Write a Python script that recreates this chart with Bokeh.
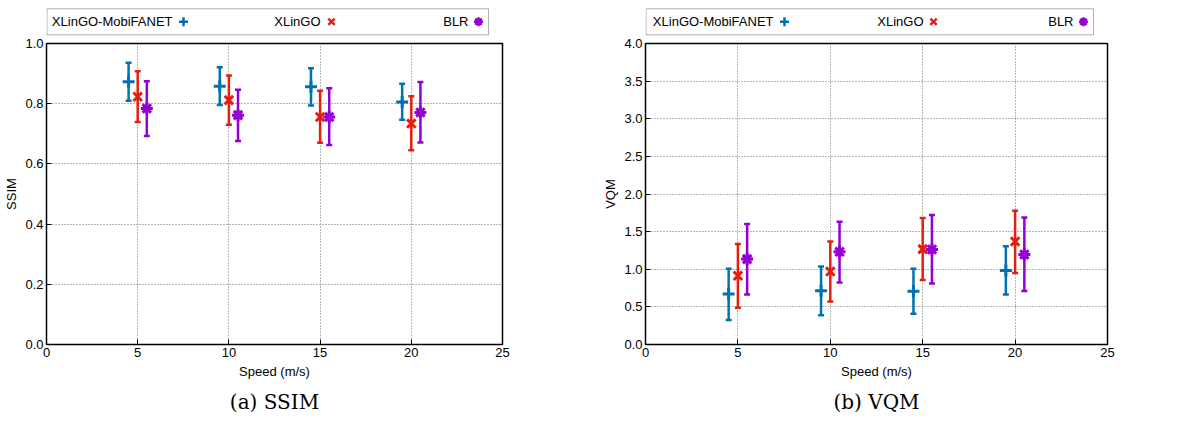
from bokeh.plotting import figure
from bokeh.layouts import row, column
from bokeh.models import (Range1d, ColumnDataSource, Whisker, TeeHead, BoxAnnotation,
                          FixedTicker, Title, CustomJSTickFormatter)
from bokeh.core.properties import value
from bokeh.embed import file_html
from bokeh.resources import INLINE

# ---------------- data ----------------
speeds = [5, 10, 15, 20]
series_names = ["XLinGO-MobiFANET", "XLinGO", "BLR"]

ssim_mobi_mean = [0.873, 0.858, 0.856, 0.806]
ssim_mobi_lo = [0.810, 0.796, 0.794, 0.747]
ssim_mobi_hi = [0.936, 0.921, 0.918, 0.866]
ssim_xl_mean = [0.823, 0.812, 0.756, 0.734]
ssim_xl_lo = [0.739, 0.730, 0.670, 0.645]
ssim_xl_hi = [0.908, 0.894, 0.843, 0.825]
ssim_blr_mean = [0.784, 0.762, 0.756, 0.771]
ssim_blr_lo = [0.693, 0.676, 0.663, 0.671]
ssim_blr_hi = [0.875, 0.846, 0.851, 0.872]

vqm_mobi_mean = [0.670, 0.714, 0.709, 0.984]
vqm_mobi_lo = [0.324, 0.390, 0.408, 0.665]
vqm_mobi_hi = [1.006, 1.037, 1.006, 1.307]
vqm_xl_mean = [0.913, 0.970, 1.268, 1.369]
vqm_xl_lo = [0.488, 0.571, 0.856, 0.949]
vqm_xl_hi = [1.334, 1.369, 1.680, 1.777]
vqm_blr_mean = [1.135, 1.232, 1.263, 1.196]
vqm_blr_lo = [0.665, 0.824, 0.811, 0.710]
vqm_blr_hi = [1.600, 1.631, 1.720, 1.688]

x_ticks = [0, 5, 10, 15, 20, 25]
ssim_ticks = [0.0, 0.2, 0.4, 0.6, 0.8, 1.0]
vqm_ticks = [0.0, 0.5, 1.0, 1.5, 2.0, 2.5, 3.0, 3.5, 4.0]

# ---------------- style ----------------
COLORS = ["#0072b2", "#e51e10", "#9400d3"]
MARKERS = ["cross", "x", "asterisk"]
OFFSETS = [-0.5, 0.0, 0.5]
FONT = "Liberation Sans"
SERIF = "DejaVu Serif"
MAIN_H = 383
LEG_H = 37
FRAME_H = 301


def make_main(width, ml, fw, ymax, yticks, ylabel, caption, groups):
    p = figure(width=width, height=MAIN_H, output_backend="svg", toolbar_location=None,
               x_range=Range1d(0, 25), y_range=Range1d(0, ymax),
               min_border_left=ml, min_border_right=width - ml - fw, min_border_top=6,
               min_border_bottom=MAIN_H - 6 - FRAME_H)
    p.outline_line_color = "black"
    p.outline_line_width = 1.5
    p.background_fill_color = "white"
    p.border_fill_color = "white"

    p.xaxis.ticker = FixedTicker(ticks=x_ticks)
    p.yaxis.ticker = FixedTicker(ticks=yticks)
    p.yaxis.formatter = CustomJSTickFormatter(code="return tick.toFixed(1);")
    for ax in (p.xaxis[0], p.yaxis[0]):
        ax.major_tick_in = 5
        ax.major_tick_out = 0
        ax.minor_tick_in = 0
        ax.minor_tick_out = 0
        ax.axis_line_color = "black"
        ax.major_tick_line_color = "black"
        ax.major_label_text_font = FONT
        ax.major_label_text_font_size = "13px"
        ax.major_label_text_color = "black"
        ax.axis_label_text_font = FONT
        ax.axis_label_text_font_size = "13px"
        ax.axis_label_text_font_style = "normal"
        ax.axis_label_text_color = "black"
    p.xaxis.axis_label = "Speed (m/s)"
    p.xaxis.major_label_standoff = 3
    p.xaxis.axis_label_standoff = 4
    p.yaxis.axis_label = ylabel
    p.yaxis.major_label_standoff = 3
    p.yaxis.axis_label_standoff = 3

    p.grid.grid_line_color = "#6e6e6e"
    p.grid.grid_line_dash = "1 2"
    p.grid.grid_line_width = 1
    p.xgrid.ticker = FixedTicker(ticks=[5, 10, 15, 20])
    p.ygrid.ticker = FixedTicker(ticks=yticks[1:-1])

    for (mean, lo, hi), color, marker, off in zip(groups, COLORS, MARKERS, OFFSETS):
        src = ColumnDataSource(dict(x=[s + off for s in speeds], y=mean, lo=lo, hi=hi))
        w = Whisker(source=src, base="x", upper="hi", lower="lo", dimension="height",
                    line_color=color, line_width=2.5,
                    upper_head=TeeHead(size=6, line_color=color, line_width=2.5),
                    lower_head=TeeHead(size=6, line_color=color, line_width=2.5))
        p.add_layout(w)
        p.scatter("x", "y", source=src, marker=marker, size=12, line_width=3,
                  line_color=color, fill_color=color)

    t = Title(text=caption, align="center", text_font=SERIF, text_font_size="20px",
              text_font_style="normal", text_color="black", standoff=12)
    p.add_layout(t, "below")
    return p


def make_legend(width, ml, fw, box_w, layout_pos):
    fh = LEG_H - 7
    p = figure(width=width, height=LEG_H, output_backend="svg", toolbar_location=None,
               x_range=Range1d(0, fw), y_range=Range1d(0, fh),
               min_border_left=ml, min_border_right=width - ml - fw,
               min_border_top=6, min_border_bottom=1)
    p.axis.visible = False
    p.grid.visible = False
    p.outline_line_color = None
    box = BoxAnnotation(left=0.5, right=box_w, bottom=1.7, top=27.7,
                        fill_alpha=0, line_color="black", line_width=1)
    p.add_layout(box)
    yc = (1.7 + 27.7) / 2
    text_x = [tx for tx, mx in layout_pos]
    mark_x = [mx for tx, mx in layout_pos]
    p.text(x=text_x, y=[yc] * 3, text=series_names, text_align="right",
           text_baseline="middle", text_font=value(FONT), text_font_size="13px",
           text_color="black")
    for mx, color, marker in zip(mark_x, COLORS, MARKERS):
        p.scatter([mx], [yc], marker=marker, size=9, line_width=2.5,
                  line_color=color, fill_color=color)
    return p


ssim_groups = [(ssim_mobi_mean, ssim_mobi_lo, ssim_mobi_hi),
               (ssim_xl_mean, ssim_xl_lo, ssim_xl_hi),
               (ssim_blr_mean, ssim_blr_lo, ssim_blr_hi)]
vqm_groups = [(vqm_mobi_mean, vqm_mobi_lo, vqm_mobi_hi),
              (vqm_xl_mean, vqm_xl_lo, vqm_xl_hi),
              (vqm_blr_mean, vqm_blr_lo, vqm_blr_hi)]

pa = make_main(600, 46, 456, 1.0, ssim_ticks, "SSIM", "(a) SSIM", ssim_groups)
pb = make_main(590, 45, 462, 4.0, vqm_ticks, "VQM", "(b) VQM", vqm_groups)
la = make_legend(600, 46, 456, 442, [(126, 137), (274, 285), (422, 432)])
lb = make_legend(590, 45, 462, 448, [(128, 139), (278, 288), (428, 438)])

layout = row(column(la, pa), column(lb, pb))
open("out.html", "w").write(file_html(layout, INLINE))
